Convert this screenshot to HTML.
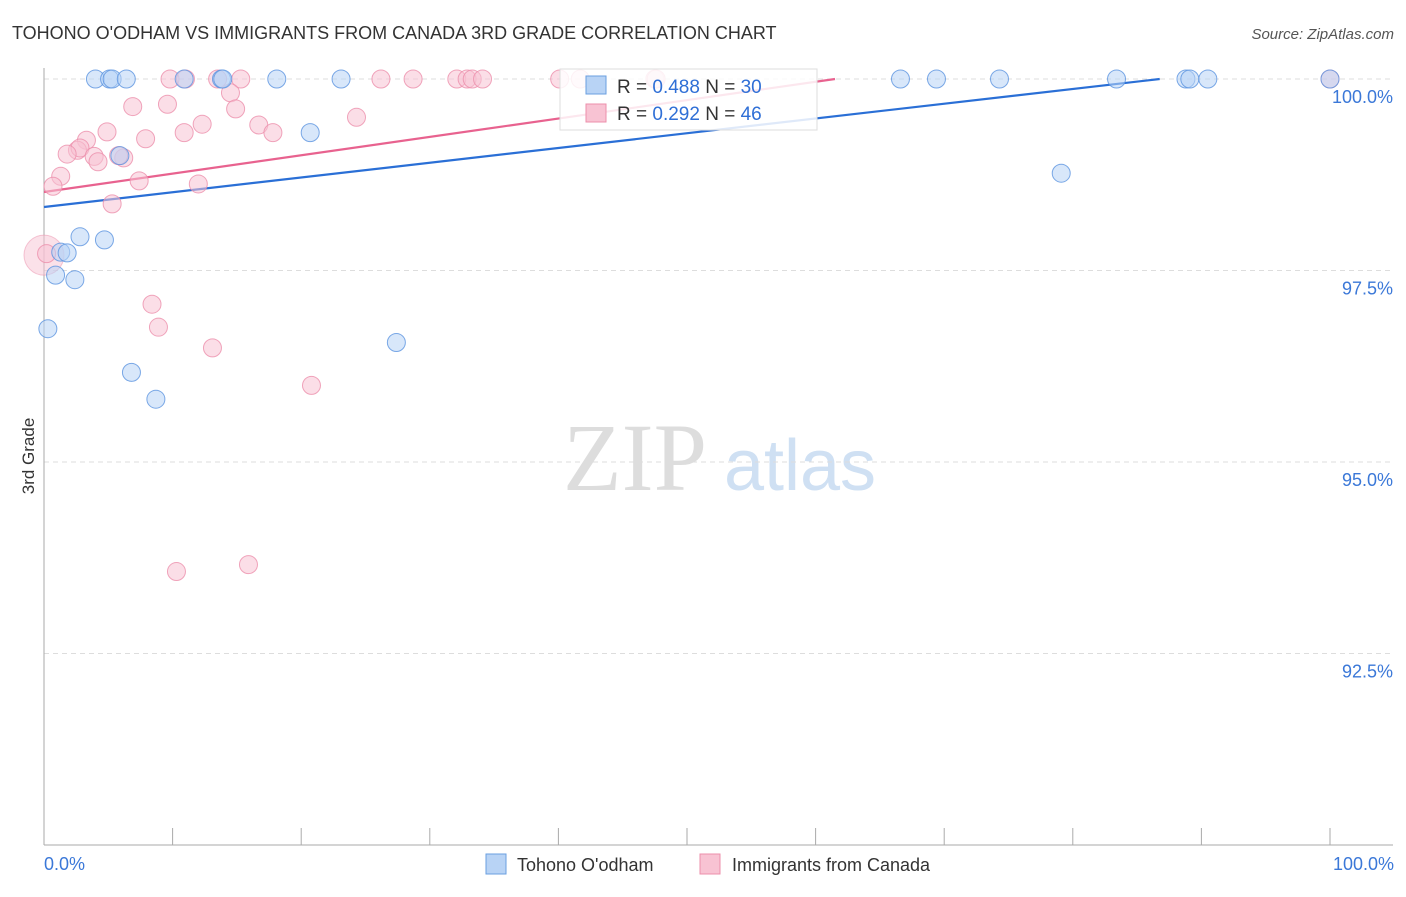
<!DOCTYPE html>
<html><head><meta charset="utf-8"><style>
body{margin:0;background:#fff;font-family:"Liberation Sans",sans-serif}
#wrap{position:relative;width:1406px;height:892px}
</style></head><body>
<div id="wrap">
<svg id="svg" width="1406" height="892">
<text x="12" y="39" font-size="18" fill="#333">TOHONO O'ODHAM VS IMMIGRANTS FROM CANADA 3RD GRADE CORRELATION CHART</text>
<text x="1394" y="39" font-size="15" fill="#555" font-style="italic" text-anchor="end">Source: ZipAtlas.com</text>
<text x="34" y="456" font-size="17" fill="#333" text-anchor="middle" transform="rotate(-90 34 456)">3rd Grade</text>
<g><text x="635" y="490" font-size="96" fill="#ddd" font-family="Liberation Serif,serif" text-anchor="middle">ZIP</text><text x="800" y="490" font-size="72" fill="#cfe0f3" text-anchor="middle">atlas</text></g>
<g id="grid"></g><g id="axes"></g><g id="trends"></g><g id="pts"></g>
<g>
<rect x="560" y="69" width="257" height="61" fill="#fff" fill-opacity="0.85" stroke="#ddd"/>
<rect x="586" y="76" width="20" height="18" fill="#b8d3f5" stroke="#6a9fe0"/>
<text x="617" y="93" font-size="19" fill="#333">R = <tspan fill="#2f6fd6">0.488</tspan>   N = <tspan fill="#2f6fd6">30</tspan></text>
<rect x="586" y="104" width="20" height="18" fill="#f8c3d3" stroke="#ec8fab"/>
<text x="617" y="120" font-size="19" fill="#333">R = <tspan fill="#2f6fd6">0.292</tspan>   N = <tspan fill="#2f6fd6">46</tspan></text>
</g>
<g>
<rect x="486" y="854" width="20" height="20" fill="#b8d3f5" stroke="#6a9fe0"/>
<text x="517" y="871" font-size="18" fill="#333">Tohono O'odham</text>
<rect x="700" y="854" width="20" height="20" fill="#f8c3d3" stroke="#ec8fab"/>
<text x="732" y="871" font-size="18" fill="#333">Immigrants from Canada</text>
</g>
<text x="44" y="870" font-size="18" fill="#3b78d8">0.0%</text>
<text x="1394" y="870" font-size="18" fill="#3b78d8" text-anchor="end">100.0%</text>
</svg></div>
<script>
const yTicks=[100,97.5,95,92.5];
const yTickLabels=["100.0%","97.5%","95.0%","92.5%"];
const blueX=[4,5.1,5.3,6.4,10.9,13.8,18.1,23.1,20.7,5.9,2.8,4.7,1.3,1.8,0.9,2.4,0.3,27.4,6.8,8.7,66.6,69.4,74.3,83.4,88.8,89.1,90.5,100,79.1,13.9];
const blueY=[100,100,100,100,100,100,100,100,99.3,99.0,97.94,97.9,97.74,97.73,97.44,97.38,96.74,96.56,96.17,95.82,100,100,100,100,100,100,100,100,98.77,100];
const pinkX=[9.8,11.0,13.5,15.3,26.2,28.7,32.1,32.9,33.3,34.1,40.1,41.7,47.5,100,14.5,6.9,9.6,14.9,24.3,10.9,12.3,16.7,17.8,4.9,7.9,3.3,2.6,2.8,1.8,3.9,4.2,6.2,5.8,1.3,0.7,7.4,12.0,5.3,0.2,8.4,8.9,13.1,20.8,10.3,15.9,47.6];
const pinkY=[100,100,100,100,100,100,100,100,100,100,100,100,100,100,99.82,99.64,99.67,99.61,99.5,99.3,99.41,99.4,99.3,99.31,99.22,99.2,99.07,99.1,99.02,98.99,98.92,98.97,99.0,98.73,98.6,98.67,98.63,98.37,97.72,97.06,96.76,96.49,96.0,93.57,93.66,100];
const blueTrend=[98.329,1.926];
const pinkTrend=[98.525,2.398];
const NS="http://www.w3.org/2000/svg";
const sx=v=>44+v/100*1286;
const sy=v=>79+(100-v)/2.5*191.5;
function mk(t,a,p){const e=document.createElementNS(NS,t);for(const k in a)e.setAttribute(k,a[k]);p.appendChild(e);return e;}
const grid=document.getElementById('grid'),axes=document.getElementById('axes');
yTicks.forEach((t,i)=>{
 const l=mk('line',{x1:44,x2:1393,y1:sy(t),y2:sy(t),stroke:'#ddd','stroke-dasharray':'5,4'},grid);
 
 
 const tx=mk('text',{x:1393,y:sy(t)+24,'font-size':18,fill:'#3b78d8','text-anchor':'end'},grid);
 tx.textContent=yTickLabels[i];
 
 
});
mk('line',{x1:44,x2:44,y1:68,y2:845,stroke:'#aaa'},axes);
mk('line',{x1:44,x2:1393,y1:845,y2:845,stroke:'#aaa'},axes);
for(let i=0;i<=10;i++){const t=mk('line',{x1:sx(i*10),x2:sx(i*10),y1:828,y2:845,stroke:'#aaa'},axes);
 
 }
const tr=document.getElementById('trends');
function trend(c,col,name){const xe=Math.min(100,(100-c[0])/c[1]*100);
 const l=mk('line',{x1:sx(0),y1:sy(c[0]),x2:sx(xe),y2:sy(c[0]+c[1]*xe/100),stroke:col,'stroke-width':2.2},tr);
 
 }
const pts=document.getElementById('pts');
function dots(X,Y,f,s,name){X.forEach((x,i)=>{const c=mk('circle',{cx:sx(x),cy:sy(Y[i]),r:9,fill:f,'fill-opacity':0.55,stroke:s,'stroke-opacity':0.8},pts);
 
 });}
const big=mk('circle',{cx:sx(0),cy:sy(97.7),r:20,fill:'#f8c3d3','fill-opacity':0.5,stroke:'#ec8fab','stroke-opacity':0.5},pts);


dots(pinkX,pinkY,'#f8c3d3','#ec8fab','pink-point');
dots(blueX,blueY,'#b8d3f5','#5b93e0','blue-point');
trend(blueTrend,'#2a6fd6','blue-trend-line');
trend(pinkTrend,'#e8628f','pink-trend-line');
</script>
</body></html>
